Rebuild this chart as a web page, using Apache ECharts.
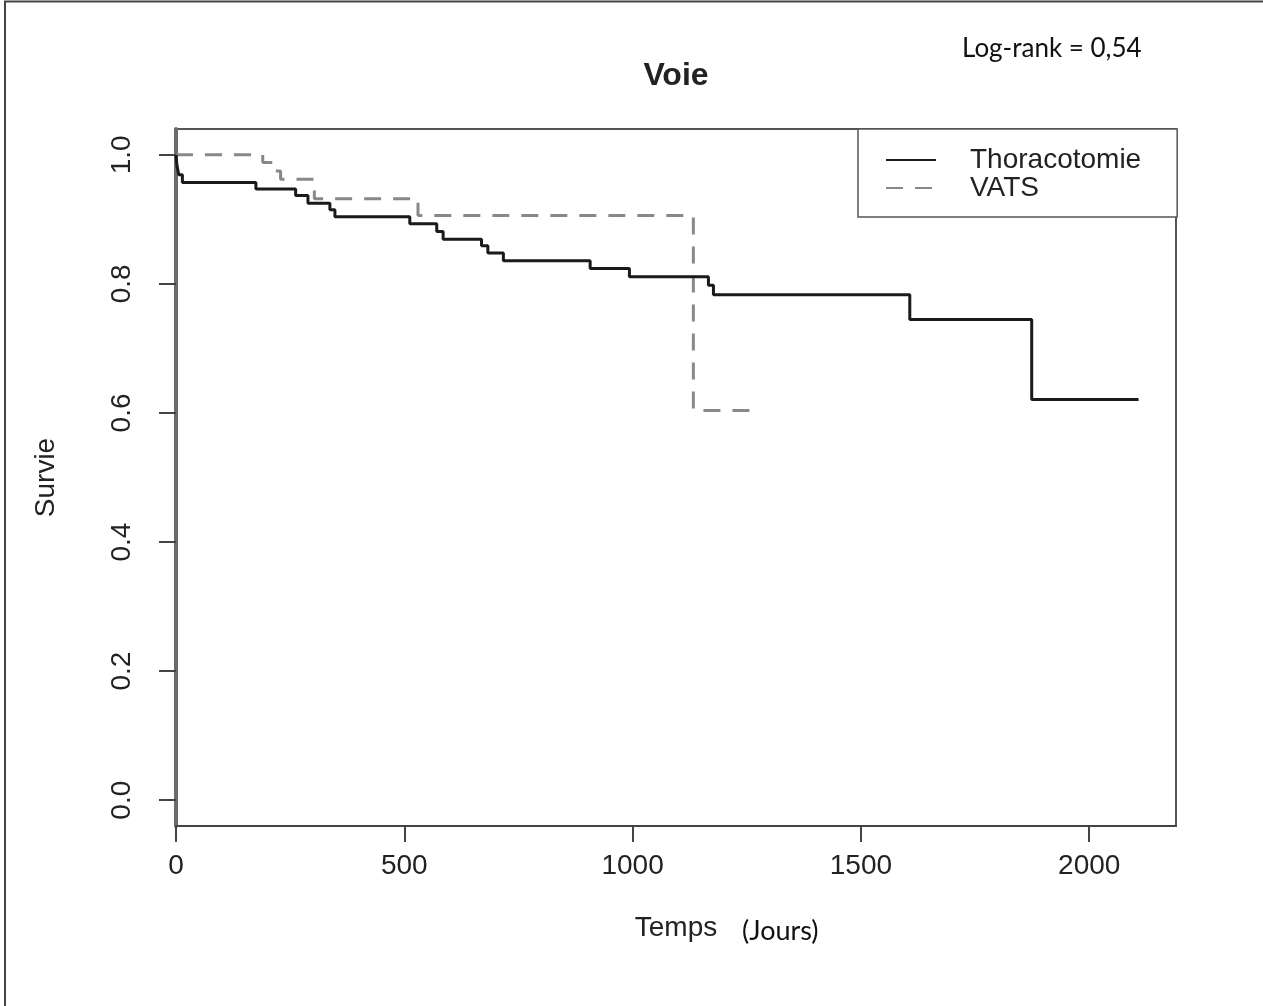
<!DOCTYPE html>
<html>
<head>
<meta charset="utf-8">
<script src="https://cdn.jsdelivr.net/npm/echarts@6/dist/echarts.min.js"></script>
<style>
html,body{margin:0;padding:0;background:#fff;}
#chart{width:1263px;height:1006px;}
</style>
</head>
<body>
<div id="chart"></div>
<script>
// ---- Data ----
const thoracoTime = [0, 2, 6, 14, 175, 262, 289, 337, 348, 512, 571, 585, 669, 683, 717, 907, 993, 1166, 1177, 1607, 1874, 2108];
const thoracoSurv = [1.0, 0.984, 0.969, 0.957, 0.947, 0.937, 0.925, 0.915, 0.904, 0.893, 0.881, 0.869, 0.859, 0.848, 0.836, 0.824, 0.811, 0.798, 0.783, 0.745, 0.621, 0.621];
const vatsTime = [0, 190, 215, 229, 303, 530, 1133, 1272];
const vatsSurv = [1.0, 0.988, 0.975, 0.962, 0.932, 0.906, 0.604, 0.604];
const xTicks = [0, 500, 1000, 1500, 2000];
const yTicks = [0, 0.2, 0.4, 0.6, 0.8, 1.0];
const seriesNames = ['Thoracotomie', 'VATS'];
const titleText = 'Voie';
const logRankText = 'Log-rank = 0,54';
const xName = 'Temps';
const xUnit = '(Jours)';
const yName = 'Survie';

const pairs = (t, s) => t.map((v, i) => [v, s[i]]);
const FONT = 'Liberation Sans';

const chart = echarts.init(document.getElementById('chart'), null, {renderer: 'canvas'});
chart.setOption({
  backgroundColor: '#fff',
  animation: false,
  grid: {left: 176, right: 87, top: 129, bottom: 180, show: true, borderColor: '#555', borderWidth: 2},
  xAxis: {
    type: 'value', min: 0, max: 2190,
    name: xName, nameLocation: 'middle', nameGap: 88,
    nameTextStyle: {fontFamily: FONT, fontSize: 28, color: '#222'},
    axisLine: {show: true, onZero: false, lineStyle: {color: '#444', width: 2}},
    axisTick: {show: true, length: 16, customValues: xTicks, lineStyle: {color: '#444', width: 2}},
    axisLabel: {customValues: xTicks, margin: 26, fontFamily: FONT, fontSize: 28, color: '#222',
      formatter: v => String(v)},
    splitLine: {show: false}
  },
  yAxis: {
    type: 'value', min: -0.04, max: 1.04,
    name: yName, nameLocation: 'middle', nameGap: 116, nameRotate: 90,
    nameTextStyle: {fontFamily: FONT, fontSize: 28, color: '#222'},
    axisLine: {show: true, onZero: false, lineStyle: {color: '#6a6a6a', width: 4}},
    axisTick: {show: true, length: 17, customValues: yTicks, lineStyle: {color: '#444', width: 2}},
    axisLabel: {customValues: yTicks, rotate: 90, margin: 40, fontFamily: FONT, fontSize: 28, color: '#222',
      formatter: v => v.toFixed(1)},
    splitLine: {show: false}
  },
  legend: {
    orient: 'vertical', left: 858, top: 129,
    padding: [17, 36, 15, 27], itemGap: 0, itemWidth: 50, itemHeight: 14,
    borderColor: '#555', borderWidth: 1.5, backgroundColor: '#fff',
    itemStyle: {opacity: 0},
    textStyle: {fontFamily: FONT, fontSize: 28, color: '#222', lineHeight: 28, padding: [0, 0, 0, 29]},
    data: seriesNames
  },
  series: [
    {name: seriesNames[0], type: 'line', step: 'end', symbol: 'none', data: pairs(thoracoTime, thoracoSurv),
      lineStyle: {color: '#1a1a1a', width: 3}, itemStyle: {color: '#1a1a1a'}, z: 3},
    {name: seriesNames[1], type: 'line', step: 'end', symbol: 'none', data: pairs(vatsTime, vatsSurv),
      lineStyle: {color: '#888', width: 3, type: [17, 12]}, itemStyle: {color: '#888'}, z: 2}
  ],
  graphic: [
    {type: 'polyline', shape: {points: [[5, 1006], [5, 1.5], [1263, 1.5]]}, style: {stroke: '#444', lineWidth: 2, fill: null}},
    {type: 'text', x: 676, y: 60,
      style: {text: titleText, font: 'bold 32px "Liberation Sans"', fill: '#222', textAlign: 'center'}},
    {type: 'text', x: 962, y: 36, style: {text: logRankText, font: '26px Lato', fill: '#111'}},
    {type: 'text', x: 742, y: 918, style: {text: xUnit, font: '27px Lato', fill: '#111'}}
  ]
});
</script>
</body>
</html>
